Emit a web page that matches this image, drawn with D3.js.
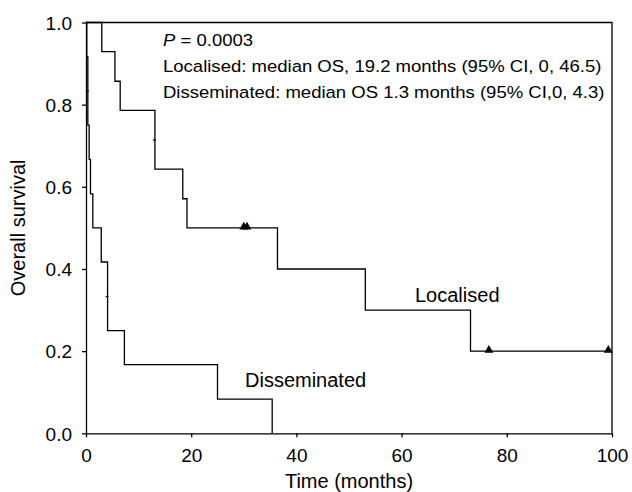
<!DOCTYPE html>
<html>
<head>
<meta charset="utf-8">
<script src="https://cdn.jsdelivr.net/npm/d3@7"></script>
<style>
  body { margin: 0; background: #fff; }
  svg { display: block; font-family: "Liberation Sans", Arial, Helvetica, sans-serif; }
  .axis path, .axis line { stroke: #000; stroke-width: 1.3; }
  .axis text { fill: #000; font-size: 19px; }
</style>
</head>
<body>
<div id="chart"></div>
<script>
// Kaplan-Meier steps
const localisedTime = [0, 3.0, 5.5, 6.5, 13.1, 18.4, 19.2, 36.4, 53.1, 73.1, 99.3];
const localisedSurv = [1, 0.929, 0.857, 0.786, 0.643, 0.571, 0.5, 0.4, 0.3, 0.2, 0.2];
const localisedCensorTime = [30.0, 30.6, 76.6, 99.3];
const localisedCensorSurv = [0.5, 0.5, 0.2, 0.2];
const localisedTieTime = [13.1];
const localisedTieSurv = [0.714];

const dissTime = [0, 0.15, 0.35, 0.6, 0.85, 1.3, 2.9, 4.1, 7.3, 25.0, 35.4];
const dissSurv = [1, 0.917, 0.75, 0.667, 0.583, 0.5, 0.417, 0.25, 0.167, 0.083, 0];
const dissTieTime = [0.35, 4.1];
const dissTieSurv = [0.833, 0.333];

const xTicks = [0, 20, 40, 60, 80, 100];
const yTicks = [0, 0.2, 0.4, 0.6, 0.8, 1.0];

const notes = [
  "Localised: median OS, 19.2 months (95% CI, 0, 46.5)",
  "Disseminated: median OS 1.3 months (95% CI,0, 4.3)"
];

const width = 632;
const height = 492;
const plotLeft = 86, plotRight = 612, plotTop = 22.5, plotBottom = 433.3;

const svg = d3.select('#chart')
  .append('svg')
  .attr('width', width)
  .attr('height', height)

const x = d3.scaleLinear().domain([0, 100]).range([plotLeft, plotRight]);
const y = d3.scaleLinear().domain([0, 1]).range([plotBottom, plotTop]);

// axes
svg.append('g')
  .attr('class', 'axis')
  .attr('transform', `translate(0, ${plotBottom})`)
  .call(d3.axisBottom(x).tickValues(xTicks).tickFormat(d3.format('d')).tickSize(4).tickSizeOuter(0).tickPadding(11))
  .call(g => g.select('.domain').attr('d', `M${plotLeft},0.5H${plotRight}`));

svg.append('g')
  .attr('class', 'axis')
  .attr('transform', `translate(${plotLeft}, 0)`)
  .call(d3.axisLeft(y).tickValues(yTicks).tickFormat(d3.format('.1f')).tickSize(4).tickSizeOuter(0).tickPadding(10))
  .call(g => g.selectAll('text').attr('dy', '0.36em'));

// frame top + right
svg.append('path')
  .attr('d', `M${plotLeft},${plotTop}H${plotRight}V${plotBottom}`)
  .attr('fill', 'none')
  .attr('stroke', '#000')
  .attr('stroke-width', 1.3);

// axis titles
svg.append('text')
  .attr('x', (plotLeft + plotRight) / 2)
  .attr('y', 488)
  .attr('text-anchor', 'middle')
  .style('font-size', '20px')
  .text('Time (months)');

svg.append('text')
  .attr('transform', `translate(25, ${(plotTop + plotBottom) / 2}) rotate(-90)`)
  .attr('text-anchor', 'middle')
  .style('font-size', '20px')
  .text('Overall survival');

const line = d3.line()
  .x(d => x(d[0]))
  .y(d => y(d[1]))
  .curve(d3.curveStepAfter);

function drawCurve(times, survs) {
  svg.append('path')
    .datum(d3.zip(times, survs))
    .attr('d', line)
    .attr('fill', 'none')
    .attr('stroke', '#000')
    .attr('stroke-width', 1.3);
}

drawCurve(localisedTime, localisedSurv);
drawCurve(dissTime, dissSurv);

// tied-event ticks
function drawTies(times, survs) {
  svg.selectAll(null)
    .data(d3.zip(times, survs))
    .enter().append('line')
    .attr('x1', d => x(d[0]) - 2)
    .attr('x2', d => x(d[0]) + 1)
    .attr('y1', d => y(d[1]))
    .attr('y2', d => y(d[1]))
    .attr('stroke', '#000')
    .attr('stroke-width', 1.2);
}
drawTies(localisedTieTime, localisedTieSurv);
drawTies(dissTieTime, dissTieSurv);

// censor marks
svg.selectAll('.censor')
  .data(d3.zip(localisedCensorTime, localisedCensorSurv))
  .enter().append('path')
  .attr('class', 'censor')
  .attr('transform', d => `translate(${x(d[0])}, ${y(d[1]) - 1})`)
  .attr('d', d3.symbol().type(d3.symbolTriangle).size(34))
  .attr('fill', '#000');

// curve labels
svg.append('text')
  .attr('x', 415).attr('y', 302)
  .style('font-size', '20px')
  .text('Localised');

svg.append('text')
  .attr('x', 245).attr('y', 387)
  .style('font-size', '20px')
  .text('Disseminated');

// annotation (slightly wide lettering, as in the figure)
const note = svg.append('g')
  .attr('transform', 'translate(163, 0) scale(1.09, 1)')
  .style('font-size', '17px');
const p = note.append('text').attr('x', 0).attr('y', 46);
p.append('tspan').style('font-style', 'italic').text('P');
p.append('tspan').text(' = 0.0003');
notes.forEach((t, i) => {
  note.append('text')
    .attr('x', 0)
    .attr('y', 72 + i * 26)
    .text(t);
});
</script>
</body>
</html>
